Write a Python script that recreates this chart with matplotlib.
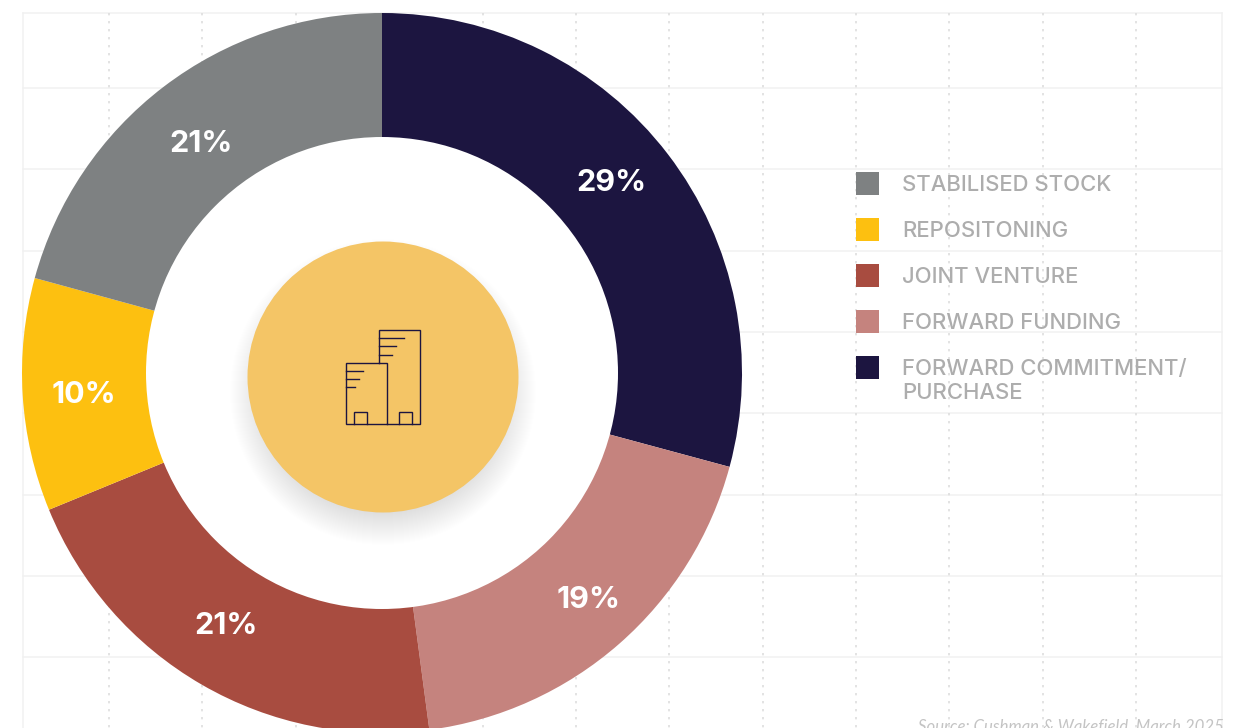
import matplotlib
matplotlib.use("Agg")
import matplotlib.pyplot as plt
from matplotlib.patches import Circle, Rectangle

W, H = 1242, 728

categories = ["FORWARD COMMITMENT/\nPURCHASE", "FORWARD FUNDING", "JOINT VENTURE",
              "REPOSITONING", "STABILISED STOCK"]
values = [29.2, 18.7, 20.9, 10.45, 20.75]
colors = ["#1c1540", "#c5837e", "#a84c40", "#fdc010", "#7e8182"]
source_text = "Source: Cushman & Wakefield, March 2025"

# Layout, in image pixels
label_xy = [(611, 183), (589, 600), (226, 626), (84, 395), (201, 144)]
legend_y = [367, 321, 275, 229, 183]
grid_y = [13, 88, 169, 251, 332, 413, 495, 576, 657]
grid_x = [109, 202, 296, 389, 483, 576, 669, 763, 856, 949, 1043, 1136]


def py(y):
    # image pixels count from the top, the axes from the bottom
    return H - y


fig = plt.figure(figsize=(W / 100, H / 100), dpi=100)
ax = fig.add_axes([0, 0, 1, 1])

ax.pie(values, colors=colors, startangle=90, counterclock=False,
       center=(382, py(373)), radius=360,
       wedgeprops=dict(width=125, linewidth=0), frame=False)
ax.set_xlim(0, W)
ax.set_ylim(0, H)
ax.set_aspect("auto")
ax.axis("off")

# Background grid
grid_color = "#f1f1f1"
for y in grid_y:
    ax.plot([23, 1222], [py(y), py(y)], color=grid_color, lw=1.1, zorder=0)
ax.plot([23, 23], [py(13), py(H)], color=grid_color, lw=1.1, zorder=0)
ax.plot([1222, 1222], [py(13), py(H)], color=grid_color, lw=1.1, zorder=0)
for x in grid_x:
    ax.plot([x, x], [py(13), py(H)], color="#dedede", lw=1.2, zorder=0,
            linestyle=(0, (1.4, 3.4)))

# The hole of the ring is white and hides the grid
ax.add_patch(Circle((382, py(373)), 236, facecolor="white", linewidth=0, zorder=2))

# Soft shadow under the centre disc, fading outwards
for i in range(52):
    ax.add_patch(Circle((383, py(392)), 172 - i, facecolor="black", alpha=0.0001 * (i + 1),
                        linewidth=0, zorder=3))
ax.add_patch(Circle((383, py(377)), 135.5, facecolor="#f4c566", linewidth=0, zorder=4))

# Building icon
icon_color = "#1c1540"
icon_lines = [
    ([379, 379, 420, 420, 346, 346, 387, 387], [363, 330, 330, 424, 424, 363, 363, 424]),
    ([379, 404], [338, 338]), ([379, 396], [346, 346]), ([379, 392], [355, 355]),
    ([346, 363], [371, 371]), ([346, 359], [379, 379]), ([346, 355], [387, 387]),
    ([354, 354, 367, 367], [424, 412, 412, 424]),
    ([399, 399, 412, 412], [424, 412, 412, 424]),
]
for xs, ys in icon_lines:
    ax.plot(xs, [py(y) for y in ys], color=icon_color, lw=1.0, zorder=5,
            solid_joinstyle="miter")

# Percent labels
for v, (x, y) in zip(values, label_xy):
    ax.text(x, py(y), f"{v:.0f}%", color="white", fontsize=22, fontweight="bold", family="Inter",
            ha="center", va="center", zorder=6)

# Legend
for name, color, y in zip(categories, colors, legend_y):
    ax.add_patch(Rectangle((856, py(y + 11.5)), 23, 23, facecolor=color, linewidth=0, zorder=6))
    ax.text(902, py(y - 8.3), name, color="#adadad", fontsize=15.9, family="Inter", fontweight="medium",
            ha="left", va="top", linespacing=1.24, zorder=6)

ax.text(1224, py(719), source_text, color="#c4c4c4", fontsize=12.1, style="italic", family="Lato",
        ha="right", va="top", clip_on=True, zorder=6)

fig.savefig("out.png", dpi=100, facecolor="white")
